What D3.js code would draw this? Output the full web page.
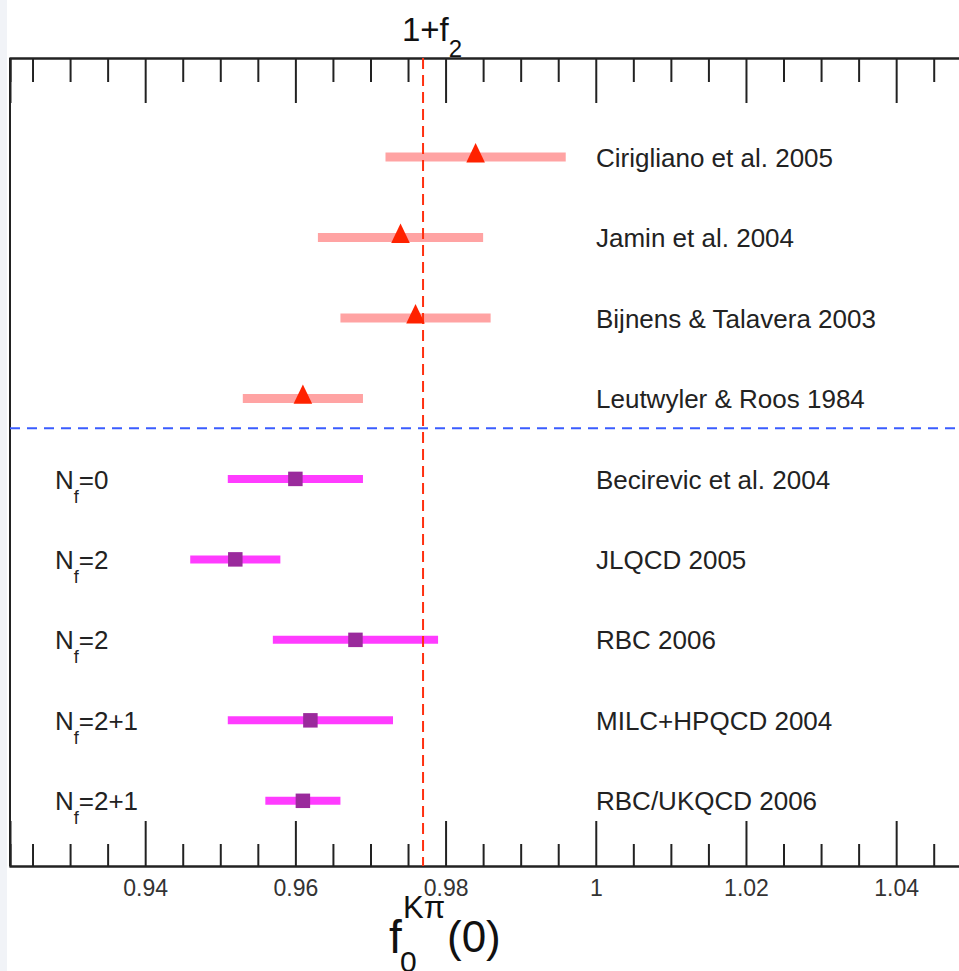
<!DOCTYPE html>
<html>
<head>
<meta charset="utf-8">
<script src="https://cdn.jsdelivr.net/npm/d3@7"></script>
<style>
  html, body { margin: 0; padding: 0; background: #ffffff; }
  svg { display: block; }
  text { font-family: "Liberation Sans", Arial, Helvetica, sans-serif; }
</style>
</head>
<body>
<svg id="chart" width="959" height="971"></svg>
<script>
// Determinations of the K->pi vector form factor at zero momentum transfer
const labels = [
  "Cirigliano et al. 2005",
  "Jamin et al. 2004",
  "Bijnens & Talavera 2003",
  "Leutwyler & Roos 1984",
  "Becirevic et al. 2004",
  "JLQCD 2005",
  "RBC 2006",
  "MILC+HPQCD 2004",
  "RBC/UKQCD 2006"
];
const values = [0.984, 0.974, 0.976, 0.961, 0.960, 0.952, 0.968, 0.962, 0.961];
const errors = [0.012, 0.011, 0.010, 0.008, 0.009, 0.006, 0.011, 0.011, 0.005];
// "model" = analytic / ChPT estimates, "lattice" = lattice QCD results
const groups = ["model", "model", "model", "model", "lattice", "lattice", "lattice", "lattice", "lattice"];
const nfLabels = ["", "", "", "", "0", "2", "2", "2+1", "2+1"];

const majorTicks = [0.94, 0.96, 0.98, 1.00, 1.02, 1.04];
const majorTickLabels = ["0.94", "0.96", "0.98", "1", "1.02", "1.04"];
const minorTicks = [0.925, 0.93, 0.935, 0.945, 0.95, 0.955, 0.965, 0.97, 0.975,
                    0.985, 0.99, 0.995, 1.005, 1.01, 1.015, 1.025, 1.03, 1.035, 1.045];

const onePlusF2 = 0.977;      // reference value 1 + f2
const separatorRow = 3.37;    // boundary between the two groups of results

const svg = d3.select("#chart");
const W = 959, H = 971;
const frameLeft = 10, frameRight = 960, frameTop = 58, frameBottom = 866;

const x = d3.scaleLinear().domain([0.922, 1.0485]).range([frameLeft, frameRight]);
const y = d3.scaleLinear().domain([-1.23, 8.81]).range([frameTop, frameBottom]);

// faint strip at the very left edge
svg.append("rect").attr("x", 0).attr("y", 0).attr("width", 7).attr("height", H).attr("fill", "#f1f3f7");

const style = {
  model: { bar: "#ffa3a3", barWidth: 9, marker: "#ff2200" },
  lattice: { bar: "#ff3cff", barWidth: 8, marker: "#9a2a9c" }
};

// frame left edge
svg.append("line")
  .attr("x1", frameLeft).attr("x2", frameLeft).attr("y1", frameTop).attr("y2", frameBottom)
  .attr("stroke", "#222").attr("stroke-width", 2);

function styleAxis(g) {
  g.select(".domain").attr("stroke", "#222").attr("stroke-width", 2);
  g.selectAll(".tick line").attr("stroke", "#222").attr("stroke-width", 2);
}

// bottom axis: major ticks with labels, minor ticks without
const bottomMajor = svg.append("g").attr("transform", `translate(0,${frameBottom})`)
  .call(d3.axisBottom(x).tickValues(majorTicks).tickSize(-45).tickPadding(14)
    .tickFormat((d, i) => majorTickLabels[i]));
styleAxis(bottomMajor);
bottomMajor.selectAll(".tick text")
  .attr("font-size", 23).attr("fill", "#333")
  .attr("font-family", "Liberation Sans, Arial, sans-serif");
const bottomMinor = svg.append("g").attr("transform", `translate(0,${frameBottom})`)
  .call(d3.axisBottom(x).tickValues(minorTicks).tickSize(-22).tickFormat(""));
styleAxis(bottomMinor);

// top axis mirrors the tick marks
const topMajor = svg.append("g").attr("transform", `translate(0,${frameTop})`)
  .call(d3.axisTop(x).tickValues(majorTicks).tickSize(-45).tickFormat(""));
styleAxis(topMajor);
const topMinor = svg.append("g").attr("transform", `translate(0,${frameTop})`)
  .call(d3.axisTop(x).tickValues(minorTicks).tickSize(-24).tickFormat(""));
styleAxis(topMinor);

// group separator
svg.append("line")
  .attr("x1", frameLeft).attr("x2", W).attr("y1", y(separatorRow)).attr("y2", y(separatorRow))
  .attr("stroke", "#3a5cff").attr("stroke-width", 2).attr("stroke-dasharray", "10,7");

const rows = labels.map((l, i) => ({ label: l, v: values[i], e: errors[i], g: groups[i], nf: nfLabels[i], i }));

// error bars
svg.append("g").selectAll("line").data(rows).join("line")
  .attr("x1", d => x(d.v - d.e)).attr("x2", d => x(d.v + d.e))
  .attr("y1", d => y(d.i)).attr("y2", d => y(d.i))
  .attr("stroke", d => style[d.g].bar)
  .attr("stroke-width", d => style[d.g].barWidth);

// reference line 1 + f2
svg.append("line")
  .attr("x1", x(onePlusF2)).attr("x2", x(onePlusF2)).attr("y1", frameTop).attr("y2", frameBottom)
  .attr("stroke", "#ff3010").attr("stroke-width", 2).attr("stroke-dasharray", "11,6");

// central values
const tri = d3.symbol().type(d3.symbolTriangle).size(150);
const sq = d3.symbol().type(d3.symbolSquare).size(210);
svg.append("g").selectAll("path").data(rows).join("path")
  .attr("d", d => d.g === "model" ? tri() : sq())
  .attr("transform", d => d.g === "model"
    ? `translate(${x(d.v)},${y(d.i) - 1}) scale(1,1.2)`
    : `translate(${x(d.v)},${y(d.i)})`)
  .attr("fill", d => style[d.g].marker);

// row labels
svg.append("g").selectAll("text").data(rows).join("text")
  .attr("x", 596).attr("y", d => y(d.i)).attr("dy", "0.37em")
  .attr("font-size", 26).attr("fill", "#222")
  .text(d => d.label);

// number of flavours for the lattice results
const nf = svg.append("g").selectAll("text").data(rows.filter(d => d.nf !== "")).join("text")
  .attr("x", 55).attr("y", d => y(d.i)).attr("dy", "0.37em")
  .attr("font-size", 26).attr("fill", "#222");
nf.append("tspan").text("N");
nf.append("tspan").attr("font-size", 18).attr("dy", 14).text("f");
nf.append("tspan").attr("dy", -14).text(d => "=" + d.nf);

// label above the reference line
const t = svg.append("text").attr("x", 402).attr("y", 41).attr("font-size", 33).attr("fill", "#111");
t.append("tspan").text("1+f");
t.append("tspan").attr("font-size", 24).attr("dy", 16).text("2");

// axis title f_0^{Kπ}(0)
const title = svg.append("g").attr("fill", "#111");
title.append("text").attr("x", 389).attr("y", 953).attr("font-size", 46).text("f");
title.append("text").attr("x", 400).attr("y", 972).attr("font-size", 30).text("0");
title.append("text").attr("x", 403).attr("y", 918).attr("font-size", 31).text("Kπ");
title.append("text").attr("x", 447).attr("y", 952).attr("font-size", 44).text("(0)");
</script>
</body>
</html>
